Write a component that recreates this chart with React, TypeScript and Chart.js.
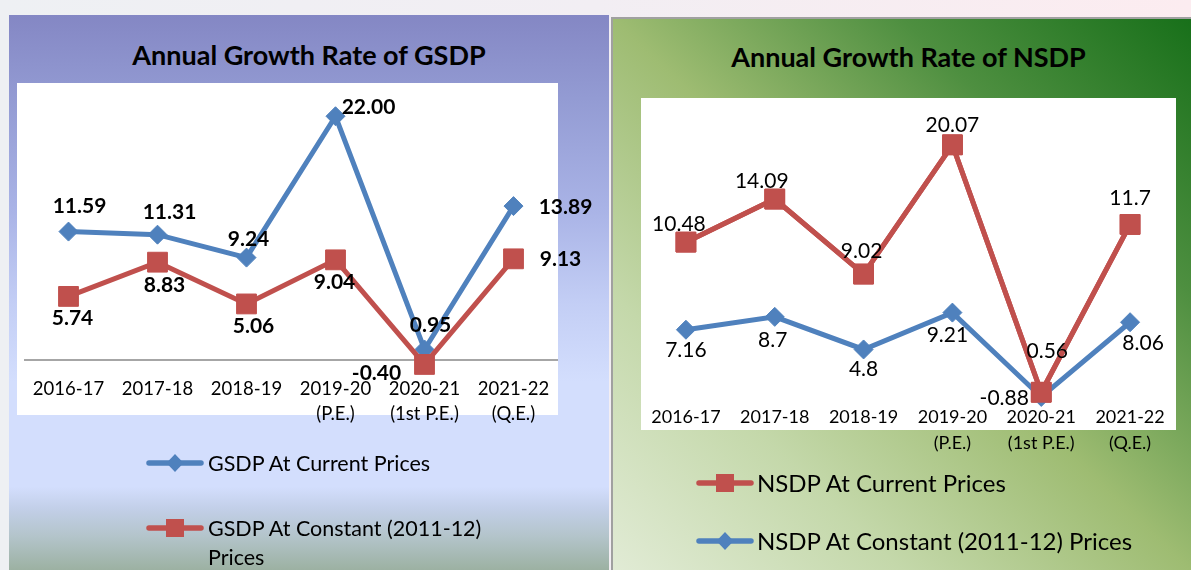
import React, { useEffect, useRef } from 'react';
import { Chart, registerables } from 'chart.js';
Chart.register(...registerables);

// ---------- data ----------
const categories: string[][] = [
  ['2016-17'],
  ['2017-18'],
  ['2018-19'],
  ['2019-20', '(P.E.)'],
  ['2020-21', '(1st P.E.)'],
  ['2021-22', '(Q.E.)'],
];
const gsdpCurrent = [11.59, 11.31, 9.24, 22.0, 0.95, 13.89];
const gsdpConstant = [5.74, 8.83, 5.06, 9.04, -0.4, 9.13];
const nsdpCurrent = [10.48, 14.09, 9.02, 20.07, 0.56, 11.7];
const nsdpConstant = [7.16, 8.7, 4.8, 9.21, -0.88, 8.06];

const gsdpTitle = 'Annual Growth Rate of GSDP';
const nsdpTitle = 'Annual Growth Rate of NSDP';

// ---------- styles ----------
const BLUE = '#4f81bd';
const RED = '#c0504d';
const FONT = 'Lato, "Open Sans", sans-serif';

// value label offsets from the point (dx, dy)
const gsdpCurrentOffsets = [[11, -25], [12, -22], [2, -18], [33, -9], [6, -24], [52, 1]];
const gsdpConstantOffsets = [[4, 22], [7, 23], [7, 22], [-1, 22], [-48, 9], [47, 0]];
const nsdpCurrentOffsets = [[-7, -18], [-13, -18], [-2, -23], [0, -20], [6, -41], [0, -26]];
const nsdpConstantOffsets = [[0, 20], [-2, 23], [0, 20], [-5, 23], [-37, 1], [13, 21]];

function makeLabelPlugin(items: any[], redrawIndex: number | null) {
  return {
    id: 'valueLabels',
    afterDatasetsDraw(chart: any) {
      if (redrawIndex !== null) {
        chart.getDatasetMeta(redrawIndex).controller.draw();
      }
      const ctx = chart.ctx;
      ctx.save();
      items.forEach((item) => {
        const meta = chart.getDatasetMeta(item.dataset);
        ctx.font = item.font;
        ctx.fillStyle = '#000';
        ctx.textAlign = 'center';
        ctx.textBaseline = 'middle';
        meta.data.forEach((pt: any, i: number) => {
          const [dx, dy] = item.offsets[i];
          ctx.fillText(item.format(item.values[i]), pt.x + dx, pt.y + dy);
        });
      });
      ctx.restore();
    },
  };
}

const zeroLinePlugin = {
  id: 'zeroLine',
  beforeDatasetsDraw(chart: any) {
    const { ctx, chartArea, scales } = chart;
    const y = scales.y.getPixelForValue(0);
    ctx.save();
    ctx.strokeStyle = '#a6a6a6';
    ctx.lineWidth = 2;
    ctx.beginPath();
    ctx.moveTo(chartArea.left, y);
    ctx.lineTo(chartArea.right, y);
    ctx.stroke();
    ctx.restore();
  },
};

function lineDs(label: string, data: number[], color: string, style: string, radius: number, order: number) {
  return {
    label,
    data,
    borderColor: color,
    backgroundColor: color,
    borderWidth: 5,
    pointStyle: style,
    pointRadius: radius,
    pointBorderWidth: 1,
    pointBackgroundColor: color,
    pointBorderColor: color,
    clip: false,
    order,
    tension: 0,
  };
}

function xScale(size: number, lh: number) {
  return {
    offset: true,
    grid: { display: false, drawTicks: false, offset: true },
    border: { display: false },
    ticks: {
      color: '#000',
      font: { family: 'Lato', size, lineHeight: lh + 'px' },
      padding: 3,
      maxRotation: 0,
      minRotation: 0,
      autoSkip: false,
    },
    afterFit: (s: any) => {
      s.height = 60;
      s.paddingLeft = 0;
      s.paddingRight = 0;
    },
  };
}

function gsdpConfig(): any {
  return {
    type: 'line',
    data: {
      labels: categories,
      datasets: [
        lineDs('GSDP At Current Prices', gsdpCurrent, BLUE, 'rectRot', 9.5, 1),
        lineDs('GSDP At Constant (2011-12) Prices', gsdpConstant, RED, 'rect', 14, 0),
      ],
    },
    options: {
      responsive: false,
      animation: false,
      layout: { padding: { left: 8, right: 51, top: 68, bottom: 136.7 } },
      plugins: { legend: { display: false }, tooltip: { enabled: false } },
      scales: {
        x: xScale(18.5, 25),
        y: { display: false, min: -1.2, max: 25 },
      },
    },
    plugins: [
      zeroLinePlugin,
      makeLabelPlugin(
        [
          { dataset: 0, values: gsdpCurrent, offsets: gsdpCurrentOffsets, font: 'bold 21px Lato', format: (v: number) => v.toFixed(2) },
          { dataset: 1, values: gsdpConstant, offsets: gsdpConstantOffsets, font: 'bold 21px Lato', format: (v: number) => v.toFixed(2) },
        ],
        null,
      ),
    ],
  };
}

function nsdpConfig(): any {
  return {
    type: 'line',
    data: {
      labels: categories,
      datasets: [
        lineDs('NSDP At Constant (2011-12) Prices', nsdpConstant, BLUE, 'rectRot', 9.5, 0),
        lineDs('NSDP At Current Prices', nsdpCurrent, RED, 'rect', 14, 0),
      ],
    },
    options: {
      responsive: false,
      animation: false,
      layout: { padding: { left: 29.5, right: 16.5, top: 80, bottom: 108.7 } },
      plugins: { legend: { display: false }, tooltip: { enabled: false } },
      scales: {
        x: xScale(18, 26),
        y: { display: false, stacked: 'single', min: -1.4, max: 35 },
      },
    },
    plugins: [
      makeLabelPlugin(
        [
          { dataset: 1, values: nsdpCurrent, offsets: nsdpCurrentOffsets, font: '21px Lato', format: (v: number) => String(v) },
          { dataset: 0, values: nsdpConstant, offsets: nsdpConstantOffsets, font: '21px Lato', format: (v: number) => String(v) },
        ],
        1,
      ),
    ],
  };
}

function ChartCanvas({ config, left, top, width, height }: any) {
  const ref = useRef<HTMLCanvasElement>(null);
  useEffect(() => {
    const chart = new Chart(ref.current as HTMLCanvasElement, config());
    return () => chart.destroy();
  }, []);
  return (
    <canvas
      ref={ref}
      width={width}
      height={height}
      style={{ position: 'absolute', left, top, width, height }}
    />
  );
}

function LegendIcon({ color, marker }: any) {
  return (
    <svg width={60} height={24} style={{ display: 'block' }}>
      <line x1={4} y1={12} x2={56} y2={12} stroke={color} strokeWidth={5.5} strokeLinecap="round" />
      {marker === 'diamond' ? (
        <polygon points="30,3 38.5,12 30,21 21.5,12" fill={color} />
      ) : (
        <rect x={21} y={3} width={18} height={18} fill={color} />
      )}
    </svg>
  );
}

function LegendItem({ x, y, color, marker, lines, size, lineHeight, textX }: any) {
  return (
    <>
      <div style={{ position: 'absolute', left: x, top: y - 12 }}>
        <LegendIcon color={color} marker={marker} />
      </div>
      <div
        style={{
          position: 'absolute',
          left: textX,
          top: y - lineHeight / 2,
          fontFamily: FONT,
          fontSize: size,
          lineHeight: lineHeight + 'px',
          color: '#000',
          whiteSpace: 'nowrap',
        }}
      >
        {lines.map((l: string, i: number) => (
          <div key={i}>{l}</div>
        ))}
      </div>
    </>
  );
}

export default function App() {
  return (
    <div
      style={{
        position: 'fixed',
        left: 0,
        top: 0,
        width: 1191,
        height: 570,
        overflow: 'hidden',
        background: 'linear-gradient(to right, #eef0f3 0%, #f2eef3 50%, #fcecf0 100%)',
      }}
    >
      {/* left panel */}
      <div
        style={{
          position: 'absolute',
          left: 9,
          top: 15,
          width: 600,
          height: 555,
          background:
            'linear-gradient(to bottom, #8487c4 0%, #939bd3 15%, #a9b3e6 35%, #c3cef5 52%, #d3defd 66%, #d3defd 85%, #c2cfe8 89%, #b3c4ca 94%, #9cb1a2 100%)',
        }}
      />
      <div style={{ position: 'absolute', left: 17, top: 83, width: 541, height: 332, background: '#fff' }} />
      <div
        style={{
          position: 'absolute',
          left: 9,
          top: 38,
          width: 600,
          textAlign: 'center',
          fontFamily: FONT,
          fontWeight: 'bold',
          fontSize: 27,
          lineHeight: '34px',
          color: '#000',
        }}
      >
        {gsdpTitle}
      </div>
      <ChartCanvas config={gsdpConfig} left={9} top={15} width={600} height={555} />
      <LegendItem x={145} y={463} textX={208} color={BLUE} marker="diamond" lines={['GSDP At Current Prices']} size={21.5} lineHeight={29} />
      <LegendItem x={145} y={528} textX={208} color={RED} marker="square" lines={['GSDP At Constant (2011-12)', 'Prices']} size={21.5} lineHeight={29} />

      {/* right panel */}
      <div
        style={{
          position: 'absolute',
          left: 611,
          top: 17,
          width: 580,
          height: 553,
          boxSizing: 'border-box',
          borderLeft: '2px solid #a0a0a0',
          borderTop: '2px solid #a0a0a0',
          background:
            'linear-gradient(to top right, #e1ebd5 0%, #c4d8aa 25%, #9ebc72 50%, #4e8f40 75%, #18701a 100%)',
        }}
      />
      <div style={{ position: 'absolute', left: 641, top: 98, width: 535, height: 332, background: '#fff' }} />
      <div
        style={{
          position: 'absolute',
          left: 619,
          top: 40,
          width: 579,
          textAlign: 'center',
          fontFamily: FONT,
          fontWeight: 'bold',
          fontSize: 27,
          lineHeight: '34px',
          color: '#000',
        }}
      >
        {nsdpTitle}
      </div>
      <ChartCanvas config={nsdpConfig} left={612} top={17} width={579} height={553} />
      <LegendItem x={695} y={483} textX={757} color={RED} marker="square" lines={['NSDP At Current Prices']} size={24} lineHeight={30} />
      <LegendItem x={695} y={541} textX={757} color={BLUE} marker="diamond" lines={['NSDP At Constant (2011-12) Prices']} size={24} lineHeight={30} />
    </div>
  );
}
